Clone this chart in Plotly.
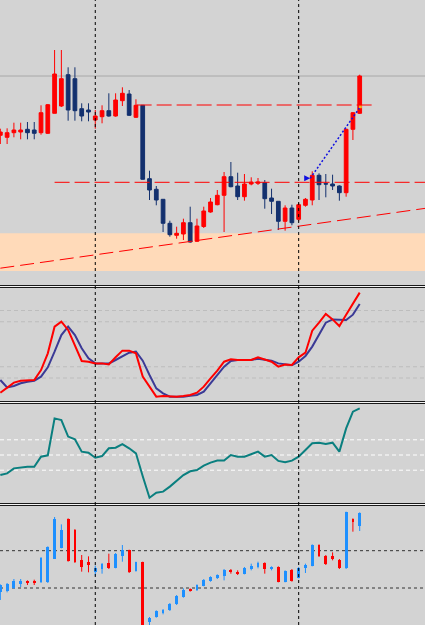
import plotly.graph_objects as go

W, H = 425, 625

# ---------------- data ----------------
candle_index = list(range(54))

price_open = [164.7, 162.7, 167.3, 168.0, 170.7, 170.0, 167.3, 166.7, 186.7, 194.0,
              225.3, 221.3, 191.3, 190.0, 180.0, 183.3, 189.3, 184.0, 199.3, 206.0,
              182.7, 194.7, 121.3, 110.7, 100.7, 76.7, 64.7, 66.0, 77.3, 58.7,
              73.5, 88.0, 95.3, 104.7, 123.3, 114.0, 103.3, 116.0, 116.7, 117.3,
              102.0, 98.7, 78.7, 92.0, 80.7, 94.7, 100.0, 124.7, 116.3, 116.0,
              114.0, 107.3, 170.7, 186.7]
price_high = [171.3, 171.7, 177.3, 177.3, 178.0, 178.0, 194.7, 196.0, 250.0, 250.0,
              232.7, 232.7, 196.7, 196.7, 190.0, 194.7, 206.7, 206.7, 212.7, 210.0,
              200.7, 195.0, 129.3, 114.0, 100.7, 79.3, 73.3, 81.3, 93.3, 81.3,
              93.3, 102.0, 110.0, 128.0, 138.0, 127.3, 126.0, 122.7, 122.0, 120.0,
              111.3, 98.7, 94.7, 95.3, 97.3, 102.0, 128.7, 126.7, 126.0, 125.3,
              114.7, 171.3, 188.0, 225.3]
price_low = [156.0, 156.0, 162.7, 160.7, 160.7, 160.7, 165.3, 166.0, 186.7, 193.0,
             179.3, 179.3, 178.7, 178.7, 171.3, 176.7, 183.3, 183.3, 194.0, 184.0,
             182.0, 120.5, 100.0, 94.7, 68.0, 63.3, 61.3, 60.0, 57.3, 58.0,
             72.0, 87.3, 94.7, 68.0, 112.7, 100.0, 99.3, 114.7, 115.0, 91.3,
             86.0, 70.0, 69.3, 74.7, 78.7, 93.3, 94.7, 100.0, 102.7, 110.0,
             99.3, 103.3, 160.0, 186.0]
price_close = [168.0, 167.3, 170.0, 170.0, 167.3, 166.7, 187.3, 195.3, 226.0, 221.3,
               190.0, 189.3, 184.0, 188.0, 184.0, 189.3, 184.0, 200.0, 206.7, 184.7,
               194.7, 120.7, 110.0, 100.0, 76.7, 65.3, 66.7, 77.3, 58.0, 74.0,
               89.0, 98.0, 104.7, 123.3, 113.3, 103.3, 116.0, 118.0, 118.0, 101.3,
               98.7, 78.7, 92.0, 77.3, 95.3, 100.7, 124.7, 115.3, 116.0, 114.0,
               107.3, 170.7, 187.3, 224.0]

stoch_main = [7.0, 11.7, 15.9, 17.6, 17.6, 18.2, 27.1, 41.9, 65.6, 70.1,
              62.7, 49.3, 35.1, 34.5, 33.0, 33.0, 32.1, 38.4, 44.3, 44.3,
              41.9, 21.2, 12.3, 3.4, 4.0, 3.4, 3.4, 4.0, 4.9, 7.0,
              12.3, 19.7, 26.5, 34.5, 36.6, 36.0, 36.0, 36.0, 38.4, 36.6,
              34.5, 30.1, 31.9, 31.6, 38.4, 42.5, 62.1, 69.2, 76.9, 72.1,
              66.2, 76.3, 85.8, 95.9]
stoch_signal = [18.2, 11.7, 12.9, 15.3, 16.7, 17.6, 21.2, 29.5, 43.4, 58.2,
                65.6, 58.2, 46.4, 37.5, 33.0, 33.0, 33.0, 36.0, 39.6, 42.5,
                43.4, 35.4, 22.7, 10.8, 6.4, 3.4, 3.4, 3.4, 4.3, 4.9,
                7.9, 15.3, 22.7, 30.1, 35.1, 36.0, 36.0, 36.0, 37.2, 36.6,
                35.4, 33.0, 31.9, 31.3, 34.5, 39.6, 47.9, 58.2, 69.2, 72.1,
                71.5, 71.5, 76.3, 85.8]

rsi_values = [36.8, 37.9, 41.2, 41.9, 42.3, 42.3, 48.9, 49.8, 74.1, 73.0,
              62.1, 60.3, 52.2, 51.5, 48.2, 49.3, 54.4, 54.8, 57.2, 54.4,
              51.1, 36.0, 21.9, 25.2, 25.9, 29.2, 33.1, 36.8, 39.3, 40.1,
              43.0, 45.0, 46.3, 46.3, 50.0, 48.9, 48.9, 50.7, 52.2, 48.9,
              50.0, 46.1, 45.2, 46.3, 48.9, 53.3, 57.7, 58.1, 57.2, 58.1,
              52.2, 67.5, 78.5, 80.7]

osc_open = [-0.116, -0.080, 0.009, 0.098, 0.170, 0.188, 0.152, 0.152, 0.777, 1.080,
            1.848, 1.563, 0.759, 0.705, 0.438, 0.509, 0.670, 0.545, 0.866, 1.009,
            0.455, 0.688, -0.902, -0.777, -0.670, -0.598, -0.438, -0.241, -0.027, -0.063,
            0.063, 0.188, 0.259, 0.330, 0.491, 0.438, 0.384, 0.527, 0.563, 0.670,
            0.527, 0.563, 0.170, 0.491, 0.277, 0.545, 0.598, 1.152, 0.866, 0.848,
            0.759, 0.527, 1.848, 1.652]
osc_high = [0.098, 0.134, 0.241, 0.241, 0.205, 0.223, 0.830, 1.116, 1.902, 1.705,
            1.866, 1.580, 0.884, 0.848, 0.598, 0.670, 0.920, 0.938, 1.152, 1.027,
            0.705, 0.705, -0.777, -0.598, -0.563, -0.402, -0.188, -0.009, -0.009, 0.098,
            0.241, 0.313, 0.366, 0.509, 0.509, 0.473, 0.563, 0.652, 0.705, 0.688,
            0.580, 0.580, 0.473, 0.509, 0.563, 0.652, 1.170, 1.170, 0.884, 0.955,
            0.777, 2.045, 1.866, 2.027]
osc_low = [-0.321, -0.116, -0.027, 0.027, 0.080, 0.080, 0.134, 0.134, 0.777, 1.063,
           0.705, 0.670, 0.438, 0.420, 0.330, 0.384, 0.509, 0.527, 0.705, 0.402,
           0.438, -1.170, -0.991, -0.795, -0.705, -0.616, -0.455, -0.259, -0.098, -0.080,
           0.045, 0.170, 0.241, 0.205, 0.384, 0.348, 0.366, 0.473, 0.527, 0.384,
           0.473, 0.152, 0.152, 0.170, 0.259, 0.402, 0.580, 0.830, 0.616, 0.741,
           0.509, 0.509, 1.509, 1.527]
osc_close = [0.080, 0.098, 0.188, 0.188, 0.134, 0.134, 0.813, 1.098, 1.848, 1.563,
             0.723, 0.688, 0.563, 0.616, 0.545, 0.652, 0.527, 0.920, 1.009, 0.420,
             0.688, -1.170, -0.813, -0.616, -0.580, -0.420, -0.205, -0.045, -0.080, 0.080,
             0.205, 0.295, 0.348, 0.473, 0.420, 0.384, 0.527, 0.580, 0.670, 0.509,
             0.563, 0.170, 0.455, 0.188, 0.545, 0.616, 1.152, 0.848, 0.652, 0.777,
             0.527, 2.027, 1.759, 2.009]

stoch_levels = [80, 70, 30, 20]
rsi_levels = [60, 50, 40]
osc_levels = [0.0, 1.0]

level_prices = [195.0, 117.7]
level_start = [20.1, 8.0]
level_end = [55.1, 63.0]
trend_x = [0.0, 62.7]
trend_y = [31.8, 91.7]
zone_low, zone_high = 29.0, 66.7
projection_x = [45.7, 53.1]
projection_y = [121.7, 193.3]
period_breaks = [14, 44]

# ---------------- styling ----------------
BG = "#D3D3D3"
RED = "#FF0000"
NAVY = "#13306E"
DBLUE = "#1E90FF"
X_RANGE = [-0.05, 62.63]


def frac(px):
    return 1 - px / H


dom1 = [frac(284), 1.0]
dom2 = [frac(400.5), frac(288)]
dom3 = [frac(503), frac(404)]
dom4 = [0.0, frac(507)]

fig = go.Figure()

# --- top price candles ---
fig.add_trace(go.Candlestick(
    x=candle_index, open=price_open, high=price_high, low=price_low, close=price_close,
    increasing=dict(line=dict(color=RED, width=1), fillcolor=RED),
    decreasing=dict(line=dict(color=NAVY, width=1), fillcolor=NAVY),
    whiskerwidth=0, xaxis="x", yaxis="y", showlegend=False, hoverinfo="skip"))

# projection (blue dotted)
fig.add_trace(go.Scatter(x=projection_x, y=projection_y, mode="lines",
                         line=dict(color="#1010E0", width=1.5, dash="2px,2px"),
                         xaxis="x", yaxis="y", showlegend=False, hoverinfo="skip"))
fig.add_trace(go.Scatter(x=projection_x[:1], y=projection_y[:1], mode="markers",
                         marker=dict(symbol="arrow-right", size=6, color="#1010E0"),
                         xaxis="x", yaxis="y", showlegend=False, hoverinfo="skip"))
fig.add_trace(go.Scatter(x=projection_x[1:], y=projection_y[1:], mode="markers",
                         marker=dict(symbol="square", size=3, color="#F0B020"),
                         xaxis="x", yaxis="y", showlegend=False, hoverinfo="skip"))

# --- stochastic ---
fig.add_trace(go.Scatter(x=candle_index, y=stoch_signal, mode="lines",
                         line=dict(color="#3B3A96", width=2),
                         xaxis="x2", yaxis="y2", showlegend=False, hoverinfo="skip"))
fig.add_trace(go.Scatter(x=candle_index, y=stoch_main, mode="lines",
                         line=dict(color=RED, width=2),
                         xaxis="x2", yaxis="y2", showlegend=False, hoverinfo="skip"))

# --- RSI ---
fig.add_trace(go.Scatter(x=candle_index, y=rsi_values, mode="lines",
                         line=dict(color="#0A7F7F", width=2),
                         xaxis="x3", yaxis="y3", showlegend=False, hoverinfo="skip"))

# --- oscillator candles (bottom) ---
osc_base = [min(o, c) for o, c in zip(osc_open, osc_close)]
osc_height = [max(abs(c - o), 0.03) for o, c in zip(osc_open, osc_close)]
osc_up = [c >= o for o, c in zip(osc_open, osc_close)]
osc_color = [DBLUE if u else RED for u in osc_up]

for want_up, col in [(True, DBLUE), (False, RED)]:
    wx, wy = [], []
    for i, h, l, u in zip(candle_index, osc_high, osc_low, osc_up):
        if u == want_up:
            wx += [i, i, None]
            wy += [h, l, None]
    fig.add_trace(go.Scatter(x=wx, y=wy, mode="lines", line=dict(color=col, width=1),
                             xaxis="x4", yaxis="y4", showlegend=False, hoverinfo="skip"))

fig.add_trace(go.Bar(x=candle_index, y=osc_height, base=osc_base, width=0.42,
                     marker=dict(color=osc_color, line=dict(width=0)),
                     xaxis="x4", yaxis="y4", showlegend=False, hoverinfo="skip"))

# ---------------- shapes ----------------
shapes = []
shapes.append(dict(type="rect", xref="paper", yref="y", x0=0, x1=1, y0=zone_low, y1=zone_high,
                   fillcolor="#FFDAB9", line=dict(width=0), layer="below"))
shapes.append(dict(type="line", xref="paper", yref="y", x0=0, x1=1,
                   y0=price_close[-1], y1=price_close[-1],
                   line=dict(color="#A8A8A8", width=1), layer="below"))
for p, s, e in zip(level_prices, level_start, level_end):
    shapes.append(dict(type="line", xref="x", yref="y", x0=s, x1=e, y0=p, y1=p,
                       line=dict(color=RED, width=1, dash="15px,5px")))
shapes.append(dict(type="line", xref="x", yref="y", x0=trend_x[0], x1=trend_x[1],
                   y0=trend_y[0], y1=trend_y[1],
                   line=dict(color=RED, width=1, dash="14px,6px")))
for lv in stoch_levels:
    shapes.append(dict(type="line", xref="paper", yref="y2", x0=0, x1=1, y0=lv, y1=lv,
                       line=dict(color="#BDBDBD", width=1, dash="4px,3px"), layer="below"))
for lv in rsi_levels:
    shapes.append(dict(type="line", xref="paper", yref="y3", x0=0, x1=1, y0=lv, y1=lv,
                       line=dict(color="#FFFFFF", width=1, dash="4px,3px"), layer="below"))
for lv in osc_levels:
    shapes.append(dict(type="line", xref="paper", yref="y4", x0=0, x1=1, y0=lv, y1=lv,
                       line=dict(color="#333333", width=1, dash="3px,3px"), layer="below"))
for row in [285.5, 287.5, 401.5, 403.5, 503.5, 505.5]:
    shapes.append(dict(type="line", xref="paper", yref="paper", x0=0, x1=1,
                       y0=frac(row), y1=frac(row), line=dict(color="#1A1A1A", width=1)))
for row in [286.5, 402.5, 504.5]:
    shapes.append(dict(type="line", xref="paper", yref="paper", x0=0, x1=1,
                       y0=frac(row), y1=frac(row), line=dict(color="#F4F4F4", width=1)))
for b in period_breaks:
    shapes.append(dict(type="line", xref="x", yref="paper", x0=b, x1=b, y0=0, y1=1,
                       line=dict(color="#000000", width=1, dash="3px,3px")))

axis_common = dict(visible=False, showgrid=False, zeroline=False, fixedrange=True)

fig.update_layout(
    width=W, height=H,
    margin=dict(l=0, r=0, t=0, b=0, pad=0),
    paper_bgcolor=BG, plot_bgcolor=BG,
    showlegend=False,
    boxgap=0.45, boxgroupgap=0,
    bargap=0,
    shapes=shapes,
    xaxis=dict(range=X_RANGE, domain=[0, 1], anchor="y", rangeslider=dict(visible=False), **axis_common),
    xaxis2=dict(range=X_RANGE, domain=[0, 1], anchor="y2", **axis_common),
    xaxis3=dict(range=X_RANGE, domain=[0, 1], anchor="y3", **axis_common),
    xaxis4=dict(range=X_RANGE, domain=[0, 1], anchor="y4", **axis_common),
    yaxis=dict(range=[16, 300], domain=dom1, anchor="x", **axis_common),
    yaxis2=dict(range=[0, 100], domain=dom2, anchor="x2", **axis_common),
    yaxis3=dict(range=[18.42, 83.55], domain=dom3, anchor="x3", **axis_common),
    yaxis4=dict(range=[-0.991, 2.170], domain=dom4, anchor="x4", **axis_common),
)

fig.write_html("out.html")
